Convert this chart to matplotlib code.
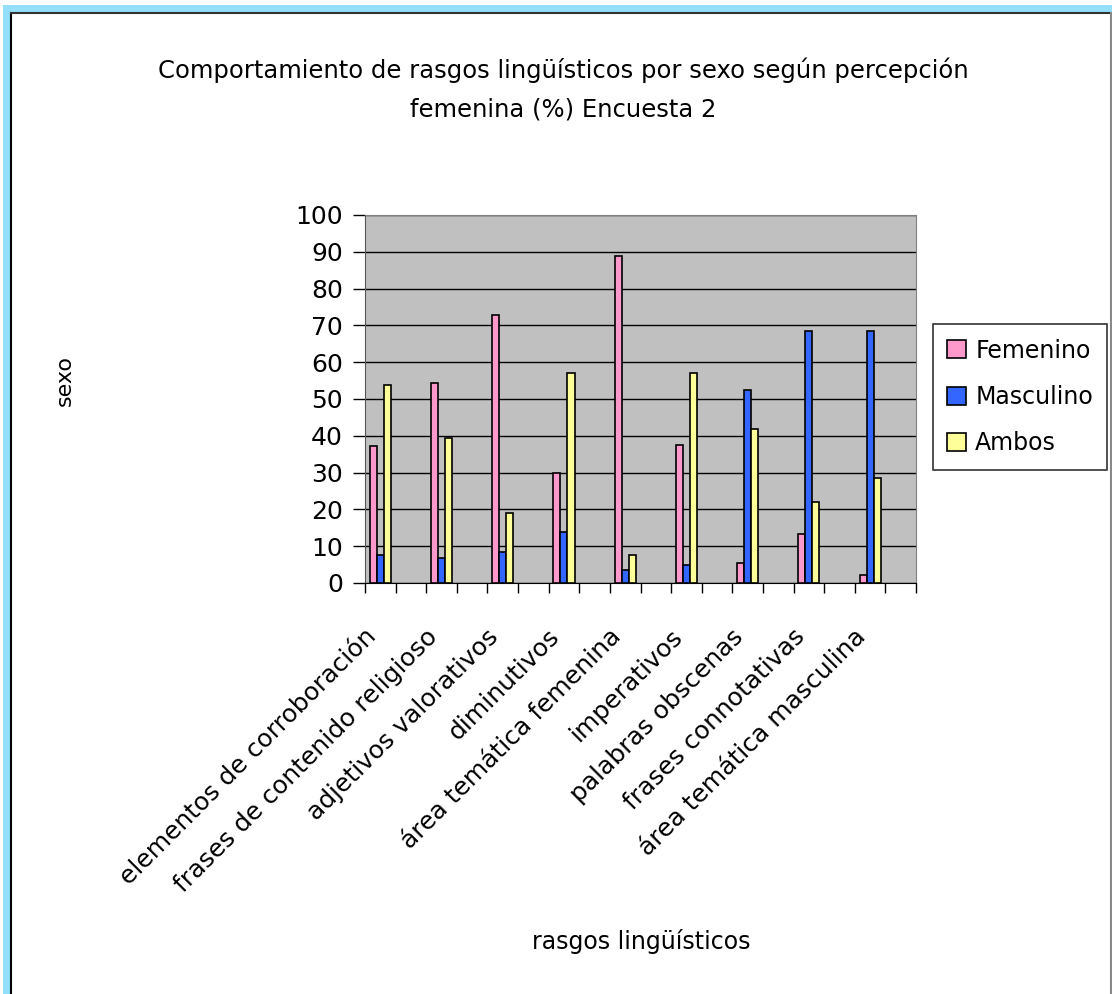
import matplotlib
matplotlib.use("Agg")
import matplotlib.pyplot as plt
from matplotlib.patches import Rectangle
from matplotlib.lines import Line2D
import matplotlib.transforms as mtransforms
import numpy as np

categories = ["elementos de corroboración", "frases de contenido religioso",
              "adjetivos valorativos", "diminutivos", "área temática femenina",
              "imperativos", "palabras obscenas", "frases connotativas",
              "área temática masculina"]
femenino = [37.3, 54.4, 72.8, 29.9, 88.9, 37.6, 5.5, 13.4, 2.3]
masculino = [7.7, 6.8, 8.3, 13.9, 3.4, 5.0, 52.4, 68.6, 68.6]
ambos = [53.9, 39.5, 18.9, 57.1, 7.7, 57.1, 41.9, 22.0, 28.6]
series_names = ["Femenino", "Masculino", "Ambos"]
colors = ["#FF99CC", "#3366FF", "#FFFF99"]
yticks = list(range(0, 101, 10))

plt.rcParams['font.family'] = ['DejaVu Sans']

W, H = 1112, 994
fig = plt.figure(figsize=(W / 100, H / 100), dpi=100)
fig.patch.set_facecolor("white")

# outer frame
fig.patches.append(Rectangle((3 / W, 0), 1, 1 - 5 / H, transform=fig.transFigure,
                             facecolor="#93DFFD", edgecolor="none", zorder=-10))
fig.patches.append(Rectangle((11 / W, 0), (1110 - 11) / W, 1 - 13 / H, transform=fig.transFigure,
                             facecolor="white", edgecolor="none", zorder=-9))
fig.lines.append(Line2D([11 / W, 11 / W], [0, 1 - 13 / H], transform=fig.transFigure,
                        color="black", lw=1.5))
fig.lines.append(Line2D([11 / W, 1], [1 - 13 / H, 1 - 13 / H], transform=fig.transFigure,
                        color="#333333", lw=1.5))
fig.lines.append(Line2D([1110.5 / W, 1110.5 / W], [0, 1 - 13 / H], transform=fig.transFigure,
                        color="#888888", lw=1.5))

left, right, top, bottom = 365, 916, 215, 583
ax = fig.add_axes([left / W, 1 - bottom / H, (right - left) / W, (bottom - top) / H])
ax.set_facecolor("#C0C0C0")

n = len(categories)
centers = np.arange(n) * 2 + 0.5
bw = 0.23
for k, (vals, c, name) in enumerate(zip([femenino, masculino, ambos], colors, series_names)):
    ax.bar(centers + (k - 1) * bw, vals, width=bw, color=c, edgecolor="black",
           linewidth=1.2, label=name, zorder=3)

ax.set_xlim(0, 2 * n)
ax.set_ylim(0, 100)
ax.set_yticks(yticks)
ax.yaxis.grid(True, color="black", linewidth=1.0, zorder=1)
ax.set_axisbelow(True)
ax.tick_params(axis="y", direction="out", length=9, width=1, labelsize=18, pad=7)

ax.set_xticks(centers)
ax.set_xticklabels(categories, rotation=45, ha="right", va="center",
                   rotation_mode="anchor", fontsize=18)
ax.tick_params(axis="x", which="major", length=0, pad=36)
ax.set_xticks(np.arange(0, 2 * n + 1), minor=True)
ax.tick_params(axis="x", which="minor", direction="out", length=7, width=1)
offset = mtransforms.ScaledTranslation(-8 / 100, 0, fig.dpi_scale_trans)
for lbl in ax.get_xticklabels():
    lbl.set_transform(lbl.get_transform() + offset)

for s in ["top", "right"]:
    ax.spines[s].set_color("#808080")
ax.spines["left"].set_color("#555555")
ax.spines["bottom"].set_color("black")

fig.text(563 / W, 1 - 70 / H, "Comportamiento de rasgos lingüísticos por sexo según percepción",
         ha="center", va="center", fontsize=17.5)
fig.text(563 / W, 1 - 110 / H, "femenina (%) Encuesta 2", ha="center", va="center", fontsize=17.5)
fig.text(65 / W, 1 - 380 / H, "sexo", rotation=90, ha="center", va="center", fontsize=16)
fig.text(641 / W, 1 - 941 / H, "rasgos lingüísticos", ha="center", va="center", fontsize=17)

leg = fig.legend(loc="center", bbox_to_anchor=(1020 / W, 1 - 397 / H), fontsize=17,
                 frameon=True, fancybox=False, edgecolor="black", handlelength=0.8,
                 handleheight=0.8, labelspacing=0.95, borderpad=0.6, handletextpad=0.4)
leg.get_frame().set_linewidth(1.2)

fig.savefig("out.png", dpi=100, facecolor=fig.get_facecolor())
